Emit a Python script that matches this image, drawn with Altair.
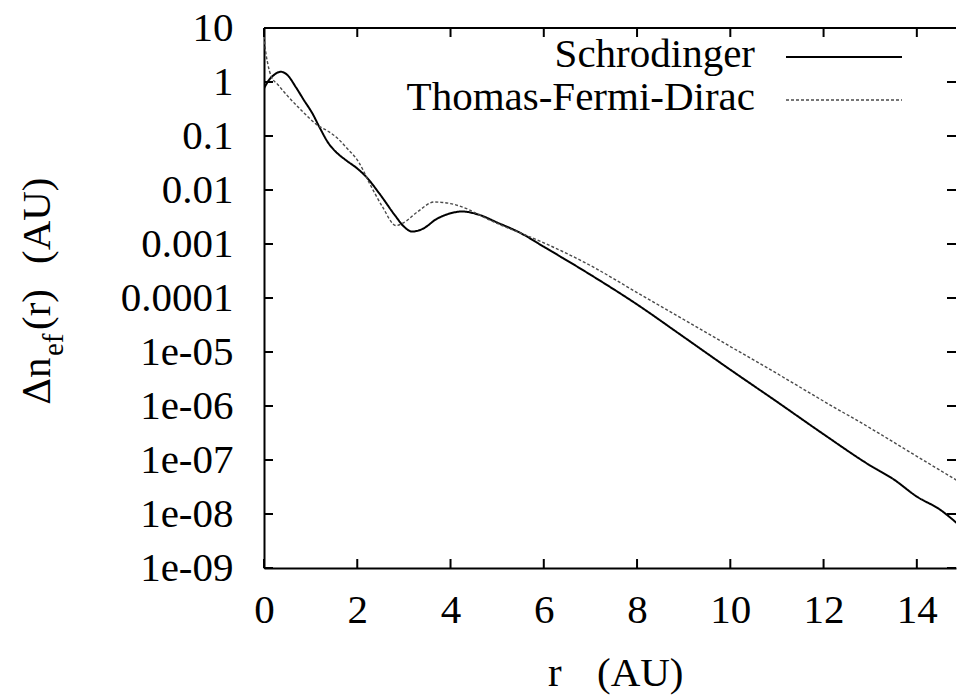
import altair as alt
import pandas as pd

# ---- data ----
series_names = ["Schrodinger", "Thomas-Fermi-Dirac"]

r_schrodinger = [0.0, 0.1, 0.2, 0.36, 0.5, 0.68, 0.85, 1.04, 1.2, 1.39, 1.55, 1.75, 2.0, 2.18,
                 2.47, 2.83, 3.0, 3.18, 3.4, 3.7, 4.0, 4.25, 4.6, 5.0, 5.5, 6.0, 7.0, 8.0, 9.0,
                 10.0, 11.0, 12.0, 13.0, 13.5, 14.0, 14.5, 14.9]
n_schrodinger = [0.76, 1.07, 1.32, 1.55, 1.35, 0.81, 0.47, 0.26, 0.14, 0.072, 0.050, 0.036, 0.025,
                 0.018, 0.0087, 0.0032, 0.0021, 0.0017, 0.0019, 0.0029, 0.0037, 0.0040, 0.0035,
                 0.0025, 0.0016, 8.9e-4, 2.7e-4, 7.6e-5, 1.9e-5, 4.7e-6, 1.2e-6, 3.0e-7, 7.9e-8,
                 4.4e-8, 2.1e-8, 1.2e-8, 6.3e-9]

r_tfd = [0.0, 0.03, 0.08, 0.15, 0.3, 0.5, 0.8, 1.14, 1.39, 1.6, 1.75, 2.04, 2.25, 2.54, 2.83,
         3.0, 3.3, 3.65, 4.0, 4.4, 4.6, 5.0, 5.5, 6.0, 7.0, 8.0, 9.0, 10.0, 11.0, 12.0, 13.0,
         14.0, 14.9]
n_tfd = [7.0, 4.0, 2.2, 1.3, 0.89, 0.56, 0.30, 0.16, 0.12, 0.087, 0.063, 0.032, 0.014, 0.0049,
         0.0022, 0.0025, 0.0040, 0.0060, 0.0056, 0.0043, 0.0035, 0.0024, 0.0016, 0.00105,
         4.0e-4, 1.26e-4, 4.0e-5, 1.26e-5, 4.0e-6, 1.23e-6, 3.9e-7, 1.17e-7, 4.0e-8]

x_ticks = [0, 2, 4, 6, 8, 10, 12, 14]
y_ticks = [10, 1, 0.1, 0.01, 0.001, 0.0001, 1e-5, 1e-6, 1e-7, 1e-8, 1e-9]

# ---- layout ----
FONT = "Liberation Serif"
FS = 41
W, H = 692, 540
LEFT, TOP = 264, 28
XMAX = 14.84

df = pd.concat([
    pd.DataFrame({"r": r_schrodinger, "n": n_schrodinger, "series": series_names[0]}),
    pd.DataFrame({"r": r_tfd, "n": n_tfd, "series": series_names[1]}),
])

xscale = alt.Scale(domain=[0, XMAX], nice=False, zero=False)
yscale = alt.Scale(type="log", domain=[1e-9, 10], nice=False)

y_label_expr = ("datum.value >= 0.0001 ? format(datum.value, '~g') : "
                "replace(format(datum.value, '.0e'), 'e-', 'e-0')")

x_axis = alt.Axis(values=x_ticks, grid=False, ticks=False, domainWidth=2,
                  domainColor="black", labelFont=FONT, labelFontSize=FS, labelColor="black",
                  labelPadding=22, labelFlush=False, labelOverlap=False, title=None)
y_axis = alt.Axis(values=y_ticks, labelExpr=y_label_expr, grid=False, ticks=False,
                  domainWidth=2, domainColor="black", labelFont=FONT, labelFontSize=FS,
                  labelColor="black", labelPadding=31, labelBaseline="middle",
                  labelOverlap=False, labelFlush=False, title=None)

X = alt.X("r:Q", scale=xscale, axis=x_axis)
Y = alt.Y("n:Q", scale=yscale, axis=y_axis)

lines = alt.Chart(df).mark_line(interpolate="monotone", clip=True).encode(
    x=X, y=Y,
    color=alt.Color("series:N", scale=alt.Scale(domain=series_names, range=["#000000", "#4a4a4a"]), legend=None),
    strokeDash=alt.StrokeDash("series:N", scale=alt.Scale(domain=series_names, range=[[1, 0], [3, 2]]), legend=None),
    strokeWidth=alt.StrokeWidth("series:N", scale=alt.Scale(domain=series_names, range=[2.0, 1.4]), legend=None),
)

xt = pd.DataFrame({"r": x_ticks})
yt = pd.DataFrame({"n": y_ticks})
TK = 9
xt_bottom = alt.Chart(xt).mark_rule(color="black", strokeWidth=2).encode(
    x=X, y=alt.value(H), y2=alt.value(H - TK))
xt_top = alt.Chart(xt).mark_rule(color="black", strokeWidth=2).encode(
    x=X, y=alt.value(0), y2=alt.value(TK))
yt_left = alt.Chart(yt).mark_rule(color="black", strokeWidth=2).encode(
    y=Y, x=alt.value(0), x2=alt.value(TK))
yt_right = alt.Chart(yt).mark_rule(color="black", strokeWidth=2).encode(
    y=Y, x=alt.value(W - TK), x2=alt.value(W))

one = pd.DataFrame({"k": [0]})
top_border = alt.Chart(one).mark_rule(color="black", strokeWidth=2).encode(
    x=alt.value(0), x2=alt.value(W), y=alt.value(0))


def txt(s, xa, ya, fs=FS, align="left", angle=None, font=FONT):
    kw = dict(font=font, fontSize=fs, align=align, baseline="alphabetic")
    if angle is not None:
        kw["angle"] = angle
    return alt.Chart(one).mark_text(**kw).encode(
        x=alt.value(xa - LEFT), y=alt.value(ya - TOP), text=alt.value(s))


# legend
leg_text1 = txt(series_names[0], 755, 67, align="right")
leg_text2 = txt(series_names[1], 755, 110, align="right")
leg_line1 = alt.Chart(one).mark_rule(color="black", strokeWidth=2).encode(
    x=alt.value(786 - LEFT), x2=alt.value(902 - LEFT), y=alt.value(57 - TOP))
leg_line2 = alt.Chart(one).mark_rule(color="#4a4a4a", strokeWidth=1.4, strokeDash=[3, 2]).encode(
    x=alt.value(786 - LEFT), x2=alt.value(902 - LEFT), y=alt.value(100 - TOP))

# x title "r   (AU)"
xt1 = txt("r", 548, 686)
xt2 = txt("(AU)", 597, 686)

# y title: Δ n_ef(r)  (AU), rotated; the Greek letter in its own element
yt0 = txt("\u0394", 50, 405, fs=38, angle=270, font="DejaVu Serif")
yt1 = txt("n", 50, 378, angle=270)
yt2 = txt("ef", 63, 356, fs=29, angle=270)
yt3 = txt("(r)", 50, 330, angle=270)
yt4 = txt("(AU)", 50, 264, angle=270)

chart = alt.layer(
    lines, xt_bottom, xt_top, yt_left, yt_right, top_border,
    leg_text1, leg_text2, leg_line1, leg_line2, xt1, xt2, yt0, yt1, yt2, yt3, yt4
).properties(
    width=W, height=H,
    autosize=alt.AutoSizeParams(type="none"),
    padding={"left": LEFT, "top": TOP, "right": 958 - LEFT - W, "bottom": 696 - TOP - H},
    background="white",
).configure_view(stroke=None)

chart.save("out.html", embed_options={"renderer": "svg", "actions": False})
